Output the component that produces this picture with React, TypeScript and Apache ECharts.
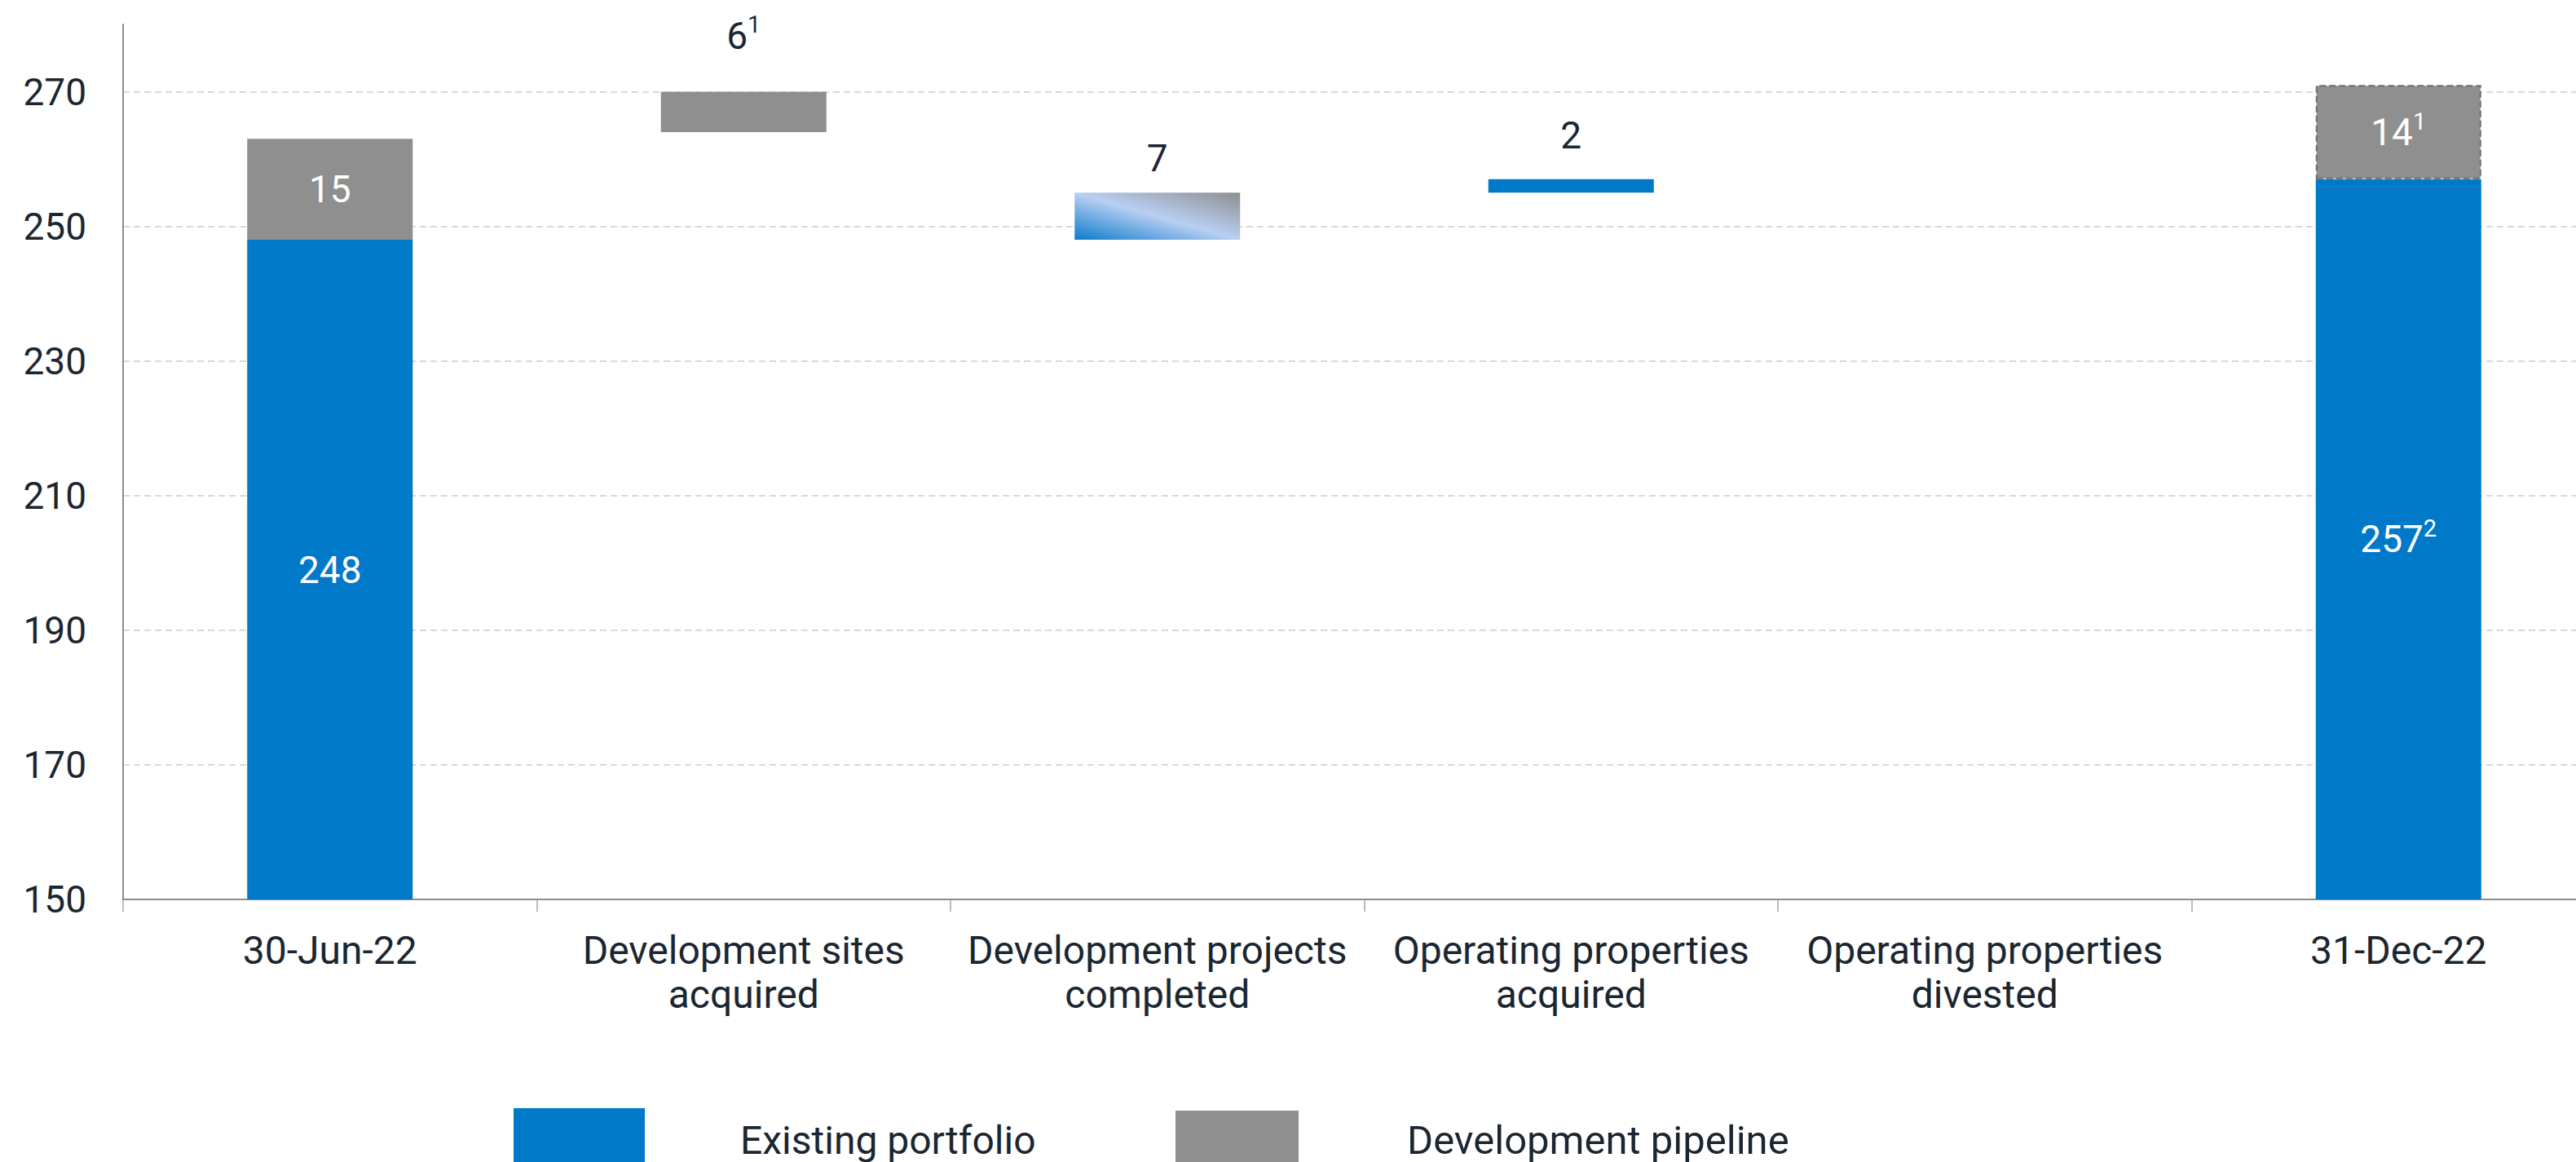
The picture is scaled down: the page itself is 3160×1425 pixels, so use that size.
import React, { useEffect, useRef } from 'react';
import * as echarts from 'echarts';

const categories = [
  '30-Jun-22',
  'Development sites\nacquired',
  'Development projects\ncompleted',
  'Operating properties\nacquired',
  'Operating properties\ndivested',
  '31-Dec-22',
];
const floatBase = [0, 264, 248, 255, 0, 0];
const existingPortfolio = [248, 0, 0, 2, 0, 257];
const projectsCompleted = [0, 0, 7, 0, 0, 0];
const developmentPipeline = [15, 6, 0, 0, 0, 14];
const existingNotes = ['', '', '', '', '', '2'];
const pipelineNotes = ['', '1', '', '', '', '1'];
const completedNotes = ['', '', '', '', '', ''];
const yTicks = [150, 170, 190, 210, 230, 250, 270];
const legendNames = ['Existing portfolio', 'Development pipeline'];

const BLUE = '#0079C8';
const GRAY = '#8E8F8E';
const DARK = '#1B2631';
const FONT = 'Roboto';

export default function App() {
  const ref = useRef<HTMLDivElement>(null);
  useEffect(() => {
    if (!ref.current) return;
    const chart = echarts.init(ref.current, undefined, { renderer: 'svg' });

    const rich = {
      n: { fontSize: 46, lineHeight: 56, fontFamily: FONT, verticalAlign: 'middle' },
      s: { fontSize: 29, lineHeight: 38, fontFamily: FONT, verticalAlign: 'top' },
    };
    const fmt = (notes: string[]) => (p: any) => {
      const v = Array.isArray(p.value) ? p.value[1] : p.value;
      if (!v) return '';
      return `{n|${v}}` + (notes[p.dataIndex] ? `{s|${notes[p.dataIndex]}}` : '');
    };
    const outside = (dist: number) => ({ position: 'top', color: DARK, distance: dist });

    const existingData = existingPortfolio.map((v, i) => ({
      value: v,
      ...(i === 3 ? { label: outside(26) } : {}),
    }));
    const completedData = projectsCompleted.map((v, i) => ({
      value: v,
      ...(i === 2 ? { label: outside(14) } : {}),
    }));
    const pipelineData = developmentPipeline.map((v, i) => ({
      value: v,
      ...(i === 1 ? { label: outside(41) } : {}),
      ...(i === 5
        ? { itemStyle: { borderType: 'dashed', borderColor: '#6E6E6E', borderWidth: 2 } }
        : {}),
    }));

    const legendCommon = {
      orient: 'horizontal',
      icon: 'rect',
      selectedMode: false,
      formatter: (name: string) => `{t|${name}}`,
    };

    chart.setOption({
      animation: false,
      backgroundColor: '#ffffff',
      textStyle: { fontFamily: FONT },
      grid: {
        left: 151,
        width: 3045,
        top: 30,
        height: 1073,
        containLabel: false,
        outerBoundsMode: 'none',
      },
      legend: [
        {
          ...legendCommon,
          data: [legendNames[0]],
          left: 625,
          top: 1354,
          itemWidth: 161,
          itemHeight: 78,
          textStyle: {
            rich: { t: { fontSize: 48, fontFamily: FONT, color: DARK, padding: [0, 0, 0, 112] } },
          },
        },
        {
          ...legendCommon,
          data: [legendNames[1]],
          left: 1437,
          top: 1357,
          itemWidth: 151,
          itemHeight: 72,
          textStyle: {
            rich: { t: { fontSize: 49, fontFamily: FONT, color: DARK, padding: [0, 0, 0, 128] } },
          },
        },
      ],
      xAxis: {
        type: 'category',
        data: categories,
        boundaryGap: true,
        axisLine: { show: true, lineStyle: { color: '#8C8C8C', width: 2 } },
        axisTick: { show: true, length: 15, lineStyle: { color: '#A6A6A6', width: 1.5 } },
        axisLabel: {
          interval: 0,
          fontSize: 48,
          lineHeight: 54,
          color: DARK,
          margin: 35,
          fontFamily: FONT,
        },
        splitLine: { show: false },
      },
      yAxis: {
        type: 'value',
        min: 150,
        max: 280,
        axisLine: { show: true, lineStyle: { color: '#8C8C8C', width: 2 } },
        axisTick: { show: false, customValues: yTicks },
        axisLabel: {
          customValues: yTicks,
          fontSize: 46,
          color: DARK,
          margin: 45,
          fontFamily: FONT,
        },
        splitLine: {
          show: true,
          lineStyle: { color: '#D9D9D9', width: 2, type: [8, 5] },
        },
      },
      series: [
        {
          name: 'base',
          type: 'bar',
          stack: 'w',
          data: floatBase,
          barWidth: '40%',
          itemStyle: { color: 'transparent' },
          silent: true,
          label: { show: false },
        },
        {
          name: legendNames[0],
          type: 'bar',
          stack: 'w',
          data: existingData,
          itemStyle: { color: BLUE },
          label: {
            show: true,
            position: 'inside',
            color: '#FFFFFF',
            formatter: fmt(existingNotes),
            rich,
          },
        },
        {
          name: 'Development projects completed',
          type: 'bar',
          stack: 'w',
          data: completedData,
          itemStyle: {
            color: new echarts.graphic.LinearGradient(0, 1, 1, 0, [
              { offset: 0, color: '#0A7BCB' },
              { offset: 0.5, color: '#B9CFF2' },
              { offset: 1, color: '#8E8F8E' },
            ]),
          },
          label: {
            show: true,
            position: 'inside',
            color: '#FFFFFF',
            formatter: fmt(completedNotes),
            rich,
          },
        },
        {
          name: legendNames[1],
          type: 'bar',
          stack: 'w',
          data: pipelineData,
          itemStyle: { color: GRAY },
          label: {
            show: true,
            position: 'inside',
            color: '#FFFFFF',
            formatter: fmt(pipelineNotes),
            rich,
          },
        },
      ],
    });
    return () => chart.dispose();
  }, []);
  return (
    <div
      ref={ref}
      style={{ position: 'fixed', left: 0, top: 0, width: 3160, height: 1425, background: '#fff' }}
    />
  );
}
